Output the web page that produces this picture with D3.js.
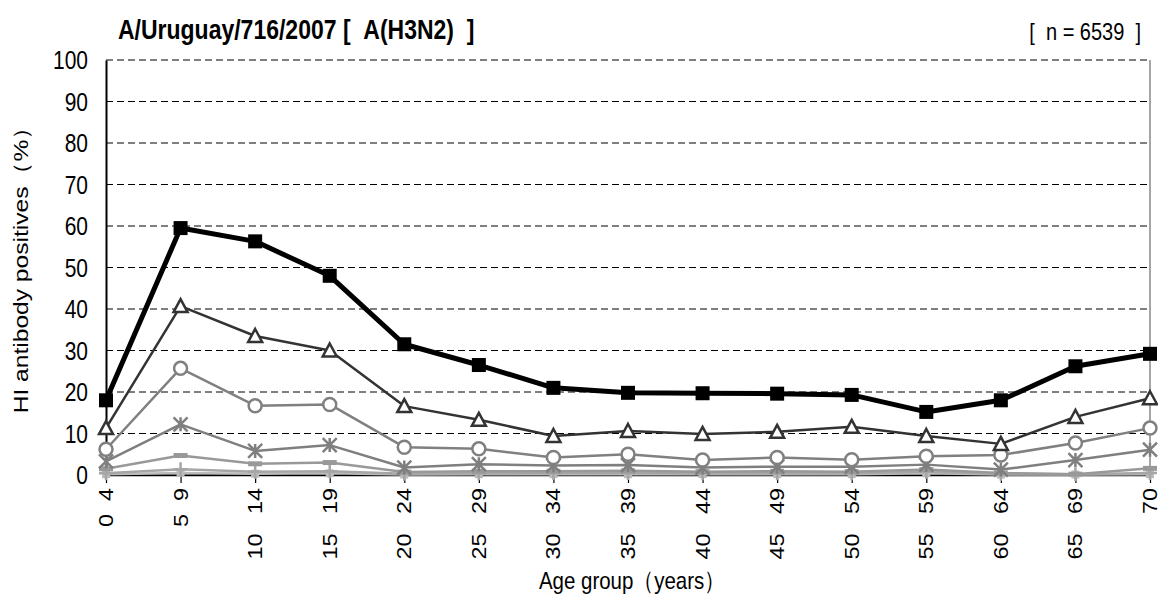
<!DOCTYPE html>
<html><head><meta charset="utf-8">
<script src="https://cdn.jsdelivr.net/npm/d3@7"></script>
<style>body{margin:0;background:#fff;} text{font-family:"Liberation Sans",Arial,sans-serif;}</style>
</head><body>
<svg id="c" width="1158" height="600"></svg>
<script>
const categories = ["0\u00a0\u00a04","5\u00a0\u00a09","10\u00a0\u00a0\u00a014","15\u00a0\u00a0\u00a019","20\u00a0\u00a0\u00a024","25\u00a0\u00a0\u00a029","30\u00a0\u00a0\u00a034","35\u00a0\u00a0\u00a039","40\u00a0\u00a0\u00a044","45\u00a0\u00a0\u00a049","50\u00a0\u00a0\u00a054","55\u00a0\u00a0\u00a059","60\u00a0\u00a0\u00a064","65\u00a0\u00a0\u00a069","70"];
const yTicks = [0,10,20,30,40,50,60,70,80,90,100];
const sSquare = [18, 59.5, 56.3, 48, 31.5, 26.5, 21, 19.8, 19.7, 19.6, 19.3, 15.2, 18, 26.2, 29.2];
const sTriangle = [11.3, 40.7, 33.5, 30, 16.6, 13.3, 9.4, 10.6, 9.9, 10.4, 11.6, 9.4, 7.5, 14, 18.5];
const sCircle = [6.2, 25.7, 16.7, 17, 6.7, 6.3, 4.2, 5.0, 3.6, 4.2, 3.7, 4.5, 4.8, 7.7, 11.3];
const sStar = [3.3, 12.2, 5.8, 7.2, 1.8, 2.6, 2.3, 2.4, 1.8, 2.0, 2.0, 2.5, 1.3, 3.6, 6.1];
const sDash = [1.5, 4.7, 2.7, 3.0, 0.7, 0.9, 0.9, 1.0, 0.8, 0.9, 0.8, 1.3, 0.5, 0.2, 1.6];
const sPlus = [0.4, 1.4, 0.8, 0.9, 0.3, 0.4, 0.5, 0.5, 0.4, 0.4, 0.4, 0.8, 0.3, 0.2, 0.5];
const sLight = [0.2, 0.5, 0.3, 0.4, 0.1, 0.2, 0.2, 0.2, 0.2, 0.2, 0.2, 0.4, 0.1, 0.1, 0.2];
const sBlack = [0, 0, 0, 0.2, 0, 0, 0, 0, 0, 0, 0, 0, 0, 0, 0];

const SY = 1.2; // vertical stretch of text seen in the reference
const svg = d3.select("#c");
const L=106, R=1150, T=60, B=475;
const x = d3.scalePoint().domain(categories).range([L,R]);
const y = d3.scaleLinear().domain([0,100]).range([B,T]);

// gridlines
svg.append("g").selectAll("line").data(yTicks.filter(d=>d>0)).join("line")
  .attr("x1",L).attr("x2",R).attr("y1",d=>y(d)).attr("y2",d=>y(d))
  .attr("stroke","#000").attr("stroke-width",1).attr("stroke-dasharray","7,4");
// right border
svg.append("line").attr("x1",R).attr("x2",R).attr("y1",T).attr("y2",B).attr("stroke","#888").attr("stroke-width",1.5);

// y axis
const ya = svg.append("g").attr("transform",`translate(${L},0)`)
  .call(d3.axisLeft(y).tickValues(yTicks).tickSize(0).tickFormat(""));
ya.select(".domain").attr("stroke","#000").attr("stroke-width",2);
svg.append("g").selectAll("text").data(yTicks).join("text")
  .attr("transform",d=>`translate(${L-18},${y(d)}) scale(1,${SY})`)
  .attr("dy","0.36em").attr("text-anchor","end").attr("font-size",21).attr("fill","#000")
  .text(d=>d);

// x axis
const xa = svg.append("g").attr("transform",`translate(0,${B})`)
  .call(d3.axisBottom(x).tickSize(8).tickSizeOuter(0).tickFormat(""));
xa.select(".domain").attr("stroke","#000").attr("stroke-width",1.5);
xa.selectAll(".tick line").attr("stroke","#000").attr("stroke-width",1.2);
svg.append("g").selectAll("text").data(categories).join("text")
  .attr("transform",d=>`translate(${x(d)},${B+13}) scale(1,${SY}) rotate(-90)`)
  .attr("dy","0.36em").attr("text-anchor","end").attr("font-size",19.5).attr("fill","#000")
  .text(d=>d);

const line = d3.line().x((d,i)=>x(categories[i])).y(d=>y(d));

function drawSeries(data, color, width, marker){
  svg.append("path").datum(data).attr("d",line).attr("fill","none")
    .attr("stroke",color).attr("stroke-width",width).attr("stroke-linejoin","round");
  const g = svg.append("g");
  data.forEach((v,i)=>{
    const cx=x(categories[i]), cy=y(v);
    if(marker==="square"){
      g.append("rect").attr("x",cx-7).attr("y",cy-7).attr("width",14).attr("height",14).attr("fill",color);
    } else if(marker==="triangle"){
      g.append("path").attr("d",`M${cx},${cy-7}L${cx+7},${cy+6}L${cx-7},${cy+6}Z`).attr("fill","#fff").attr("stroke",color).attr("stroke-width",2.5);
    } else if(marker==="circle"){
      g.append("circle").attr("cx",cx).attr("cy",cy).attr("r",6.5).attr("fill","#fff").attr("stroke",color).attr("stroke-width",2.5);
    } else if(marker==="star"){
      const s=7;
      g.append("path").attr("d",`M${cx-s},${cy-s}L${cx+s},${cy+s}M${cx-s},${cy+s}L${cx+s},${cy-s}M${cx},${cy-s}L${cx},${cy+s}`).attr("stroke",color).attr("stroke-width",2.5);
    } else if(marker==="dash"){
      g.append("rect").attr("x",cx-7).attr("y",cy-2.5).attr("width",14).attr("height",5).attr("fill",color);
    } else if(marker==="plus"){
      g.append("path").attr("d",`M${cx-7},${cy}L${cx+7},${cy}M${cx},${cy-7}L${cx},${cy+7}`).attr("stroke",color).attr("stroke-width",2.5);
    } else if(marker==="small"){
      g.append("rect").attr("x",cx-4).attr("y",cy-4).attr("width",8).attr("height",8).attr("fill",color);
    }
  });
}
drawSeries(sBlack,"#000",1.5,null);
drawSeries(sLight,"#bbbbbb",2.5,"small");
drawSeries(sPlus,"#a6a6a6",2.5,"plus");
drawSeries(sDash,"#999999",2.5,"dash");
drawSeries(sStar,"#7f7f7f",2.5,"star");
drawSeries(sCircle,"#808080",2.5,"circle");
drawSeries(sTriangle,"#333333",2.5,"triangle");
drawSeries(sSquare,"#000000",5,"square");

// titles
svg.append("text").attr("transform",`translate(118,39) scale(1,${SY})`).attr("font-size",23).attr("font-weight","bold")
  .text("A/Uruguay/716/2007 [\u00a0\u00a0A(H3N2)\u00a0\u00a0]");
svg.append("text").attr("transform",`translate(1141,40) scale(1,${SY})`).attr("font-size",20).attr("text-anchor","end")
  .text("[\u00a0\u00a0n\u00a0=\u00a06539\u00a0\u00a0]");
svg.append("text").attr("transform",`translate(21,264) scale(1,${SY}) rotate(-90)`).attr("text-anchor","middle")
  .attr("dy","0.35em").attr("font-size",20.5).text("HI antibody positives\uff08%\uff09");
svg.append("text").attr("transform",`translate(632,589) scale(1,${SY})`).attr("text-anchor","middle")
  .attr("font-size",20.5).text("Age group\uff08years\uff09");
</script>
</body></html>
